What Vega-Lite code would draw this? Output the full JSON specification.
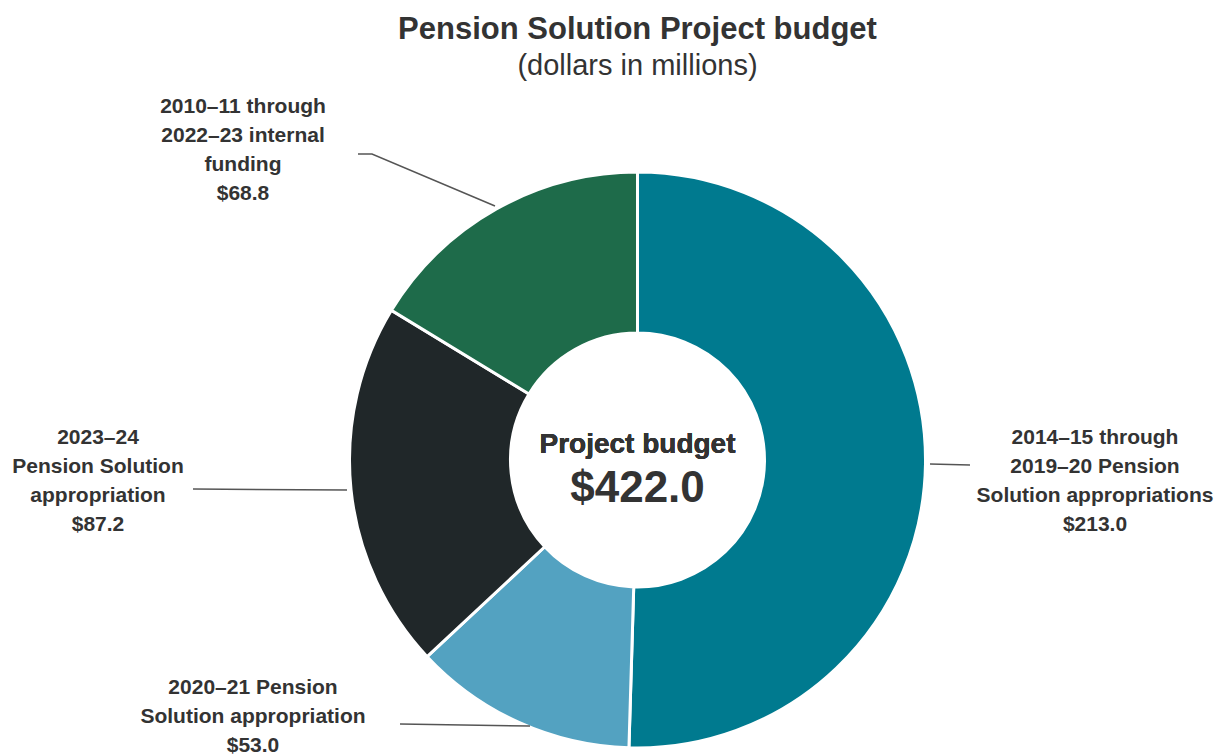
{
  "$schema": "https://vega.github.io/schema/vega-lite/v6.json",
  "width": 1169,
  "height": 590,
  "autosize": {"type": "none"},
  "padding": {"left": 53, "top": 165, "right": 0, "bottom": 0},
  "background": "white",
  "config": {"view": {"stroke": null}, "font": "Liberation Sans"},
  "title": {
    "text": "Pension Solution Project budget",
    "subtitle": "(dollars in millions)",
    "anchor": "middle",
    "frame": "group",
    "font": "Liberation Sans",
    "fontSize": 31,
    "fontWeight": "bold",
    "color": "#333333",
    "subtitleFont": "Liberation Sans",
    "subtitleFontSize": 29,
    "subtitleColor": "#333333",
    "subtitlePadding": 6,
    "offset": 14
  },
  "datasets": {
    "slices": [
      {"segment": "2014–15 through 2019–20 Pension Solution appropriations", "amount": 213.0, "order": 1},
      {"segment": "2020–21 Pension Solution appropriation", "amount": 53.0, "order": 2},
      {"segment": "2023–24 Pension Solution appropriation", "amount": 87.2, "order": 3},
      {"segment": "2010–11 through 2022–23 internal funding", "amount": 68.8, "order": 4}
    ],
    "leaders": [
      {"id": "A", "seq": 1, "x": 358, "y": 154},
      {"id": "A", "seq": 2, "x": 372, "y": 154},
      {"id": "A", "seq": 3, "x": 495, "y": 206},
      {"id": "B", "seq": 1, "x": 930, "y": 464},
      {"id": "B", "seq": 2, "x": 970, "y": 465},
      {"id": "C", "seq": 1, "x": 193, "y": 489},
      {"id": "C", "seq": 2, "x": 347, "y": 490},
      {"id": "D", "seq": 1, "x": 400, "y": 724},
      {"id": "D", "seq": 2, "x": 530, "y": 726}
    ],
    "labels": [
      {"x": 1095, "y": 438, "label": "2014–15 through\n2019–20 Pension\nSolution appropriations\n$213.0"},
      {"x": 243, "y": 107, "label": "2010–11 through\n2022–23 internal\nfunding\n$68.8"},
      {"x": 98, "y": 438, "label": "2023–24\nPension Solution\nappropriation\n$87.2"},
      {"x": 253, "y": 688, "label": "2020–21 Pension\nSolution appropriation\n$53.0"}
    ]
  },
  "layer": [
    {
      "data": {"name": "slices"},
      "mark": {"type": "arc", "radius": 288, "radius2": 127, "stroke": "white", "strokeWidth": 3},
      "encoding": {
        "theta": {"field": "amount", "type": "quantitative", "stack": true},
        "order": {"field": "order", "type": "quantitative"},
        "color": {
          "field": "segment",
          "type": "nominal",
          "scale": {
            "domain": [
              "2014–15 through 2019–20 Pension Solution appropriations",
              "2020–21 Pension Solution appropriation",
              "2023–24 Pension Solution appropriation",
              "2010–11 through 2022–23 internal funding"
            ],
            "range": ["#007A8F", "#53A2C1", "#202729", "#1E6B4A"]
          },
          "legend": null
        }
      }
    },
    {
      "data": {"name": "leaders"},
      "mark": {"type": "line", "color": "#555555", "strokeWidth": 1.5},
      "encoding": {
        "x": {"field": "x", "type": "quantitative", "scale": {"domain": [53, 1222], "nice": false, "zero": false}, "axis": null},
        "y": {"field": "y", "type": "quantitative", "scale": {"domain": [165, 755], "nice": false, "zero": false, "reverse": true}, "axis": null},
        "detail": {"field": "id", "type": "nominal"},
        "order": {"field": "seq", "type": "quantitative"}
      }
    },
    {
      "data": {"name": "labels"},
      "mark": {"type": "text", "align": "center", "baseline": "middle", "lineBreak": "\n", "lineHeight": 29, "fontSize": 21, "fontWeight": "bold", "color": "#333333"},
      "encoding": {
        "x": {"field": "x", "type": "quantitative"},
        "y": {"field": "y", "type": "quantitative"},
        "text": {"field": "label", "type": "nominal"}
      }
    },
    {
      "data": {"name": "slices"},
      "mark": {"type": "text", "text": "Project budget", "align": "center", "baseline": "middle", "dy": -15, "fontSize": 28, "fontWeight": "bold", "color": "#333333"},
      "encoding": {}
    },
    {
      "data": {"name": "slices"},
      "transform": [{"aggregate": [{"op": "sum", "field": "amount", "as": "total"}]}],
      "mark": {"type": "text", "align": "center", "baseline": "middle", "dy": 29, "fontSize": 44, "fontWeight": "bold", "color": "#333333"},
      "encoding": {
        "text": {"field": "total", "type": "quantitative", "format": "$.1f"}
      }
    }
  ]
}
